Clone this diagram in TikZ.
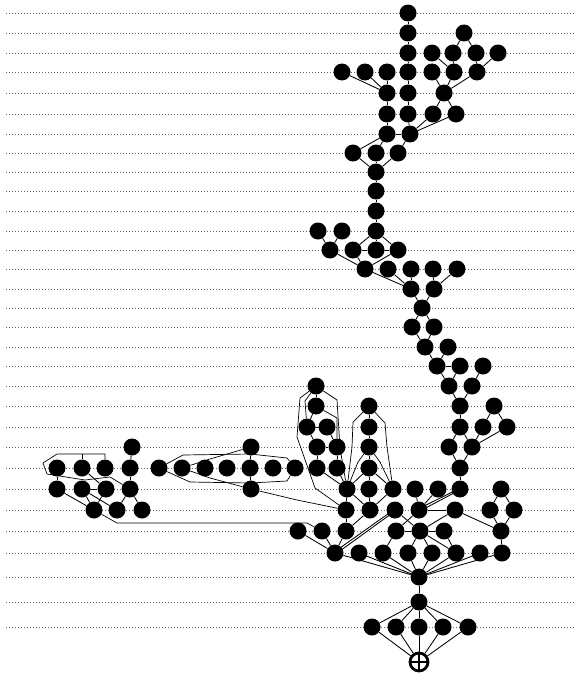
\documentclass[tikz,border=0pt]{standalone}
\begin{document}
\begin{tikzpicture}[x=1pt,y=-1pt,
  dot/.style={circle,fill=black,inner sep=0pt,minimum size=17pt},
  edge/.style={line width=0.85pt},
  hull/.style={line width=0.7pt},
  guide/.style={black!60,line width=0.6pt,dash pattern=on 1pt off 2pt}]
\useasboundingbox (0,0) rectangle (576,677);
% dotted level lines
\foreach \y in {13,33,53,72,93,114,134,153,172,191,211,231,250,269,289,308,327,347,366,386,406,427,447,468,489,510,531,553,577,602,627}
  \draw[guide] (6,\y) -- (576,\y);
% nodes
\foreach \r/\y/\xs in {
  0/13/{408},
  1/33/{408,464},
  2/53/{408,432,453,476,498},
  3/72/{342,365,387,408,432,454,477},
  4/93/{387,408,444},
  5/114/{387,408,433,456},
  6/134/{387,410},
  7/153/{353,376,398},
  8/172/{376},
  9/191/{376},
  10/211/{376},
  11/231/{318,342,376},
  12/250/{330,353,376,398},
  13/269/{365,388,411,433,457},
  14/289/{411,434},
  15/308/{422},
  16/327/{412,434},
  17/347/{425,448},
  18/366/{437,460,483},
  19/386/{316,449,472},
  20/406/{316,369,460,494},
  21/427/{307,327,369,460,483,507},
  22/447/{132,251,317,337,369,449,472},
  23/468/{57,82,105,130,159,182,205,227,250,273,295,317,337,369,460},
  24/489/{57,82,106,130,251,347,369,393,415,438,460,501},
  25/510/{94,117,142,346,370,395,419,455,490,514},
  26/531/{298,322,346,396,420,444,501},
  27/553/{335,359,383,408,432,456,480,502},
  28/577/{419},
  29/602/{419},
  30/627/{372,396,419,443,468}}
  \foreach \x in \xs \node[dot] (r\r-\x) at (\x,\y) {};
\node[circle,draw,fill=white,line width=2.8pt,inner sep=0pt,minimum size=18pt] (root) at (419,662) {};
\draw[line width=2.2pt] (root.north) -- (root.south) (root.west) -- (root.east);
% edges
\foreach \a/\b in {
  r0-408/r1-408, r1-408/r2-408, r2-408/r3-408, r3-408/r4-408, r4-408/r5-408, r5-408/r6-410,
  r1-464/r2-453, r1-464/r2-476,
  r2-432/r3-454, r2-453/r3-454, r2-476/r3-477, r2-498/r3-477,
  r3-342/r4-387, r3-365/r4-387, r3-387/r4-387,
  r3-432/r4-444, r3-454/r4-444, r3-477/r4-444,
  r4-387/r5-387, r5-387/r6-387,
  r4-444/r5-433, r4-444/r5-456,
  r5-433/r6-410, r5-456/r6-410,
  r6-387/r6-410,
  r6-387/r7-353, r6-387/r7-376, r6-410/r7-398,
  r7-353/r8-376, r7-376/r8-376, r7-398/r8-376,
  r8-376/r9-376, r9-376/r10-376, r10-376/r11-376,
  r11-318/r12-330, r11-342/r12-330,
  r11-376/r12-353, r11-376/r12-398, r11-376/r12-376,
  r12-353/r12-376, r12-376/r12-398,
  r12-330/r13-365, r12-353/r13-365, r12-398/r13-365,
  r13-365/r14-411, r13-388/r14-411, r13-411/r14-411, r13-433/r14-434, r13-457/r14-434,
  r14-411/r15-422, r14-434/r15-422,
  r15-422/r16-412, r15-422/r16-434,
  r16-412/r17-425, r16-434/r17-425,
  r17-425/r18-437, r17-448/r18-437,
  r18-437/r18-460,
  r18-437/r19-449, r18-460/r19-449, r18-483/r19-472,
  r19-449/r20-460, r19-472/r20-460,
  r20-460/r21-460,
  r20-494/r21-483, r20-494/r21-507,
  r21-460/r22-449, r21-460/r22-472, r21-483/r22-472, r21-507/r22-472,
  r22-449/r23-460, r22-472/r23-460,
  r23-460/r24-460,
  % cluster A
  r19-316/r20-316, r20-316/r21-307, r21-307/r21-327,
  r21-307/r22-317, r21-327/r22-337, r22-317/r22-337,
  r22-317/r23-317, r22-337/r23-337,
  r23-317/r24-347, r23-337/r24-347,
  % cluster B
  r20-369/r21-369, r21-369/r22-369, r22-369/r23-369, r23-369/r24-369,
  r23-369/r24-347, r23-369/r24-393,
  % left cluster
  r22-132/r23-130, r23-130/r24-130, r23-57/r24-57,
  r23-82/r24-106, r24-82/r24-106,
  r24-57/r25-94, r24-82/r25-94, r24-82/r25-117, r24-106/r25-94,
  r24-130/r25-117, r24-130/r25-142,
  % middle cluster
  r22-251/r23-250, r23-250/r24-251,
  % lower part
  r24-347/r25-346, r24-347/r25-370, r24-393/r25-370, r24-369/r25-370,
  r25-346/r26-346, r25-370/r26-346,
  r25-395/r26-420,
  r24-415/r25-419, r24-438/r25-419,
  r25-419/r25-455, r25-419/r26-396,
  r25-455/r26-420, r25-455/r26-501,
  r24-501/r25-490, r24-501/r25-514, r25-490/r26-501, r25-514/r26-501, r26-501/r27-502,
  r26-396/r26-420, r26-420/r26-444,
  r26-420/r27-408, r26-420/r27-432, r26-444/r27-456, r26-420/r27-456,
  r26-298/r27-335, r26-322/r27-335, r26-346/r27-335,
  r26-396/r27-383,
  r27-335/r28-419, r27-359/r28-419, r27-383/r28-419, r27-408/r28-419,
  r27-432/r28-419, r27-456/r28-419, r27-480/r28-419, r27-502/r28-419,
  r28-419/r29-419,
  r29-419/r30-372, r29-419/r30-396, r29-419/r30-419, r29-419/r30-443, r29-419/r30-468,
  r30-372/root, r30-396/root, r30-419/root, r30-443/root, r30-468/root}
  \draw[edge] (\a) -- (\b);
% doubled connectors
\draw[edge] ([xshift=1.5pt]r24-460.center) -- ([yshift=-1.5pt]r25-419.center);
\draw[edge] ([xshift=-1.5pt]r24-460.center) -- ([yshift=1.5pt]r25-419.center);
\draw[edge] ([xshift=1.5pt]r25-395.center) -- ([yshift=-1.5pt]r27-335.center);
\draw[edge] ([xshift=-1.5pt]r25-395.center) -- ([yshift=1.5pt]r27-335.center);
% group outlines and long connectors
\draw[hull] (r19-316) -- (300,398) -- (297,437) -- (315,488) -- (r25-346);
\draw[hull] (r19-316) -- (305,401) -- (r21-307);
\draw[hull] (r19-316) -- (337,400) -- (340,448) -- (r24-347);
\draw[hull] (r20-316) -- (337,418) -- (r22-337);
\draw[hull] (r20-369) -- (353,422) -- (352,447) -- (r24-347);
\draw[hull] (r20-369) -- (385,423) -- (387,447) -- (r24-393);
\draw[hull] (r22-369) -- (358,462) -- (r24-347);
\draw[hull] (r22-369) -- (380,462) -- (r24-393);
\draw[hull] (r23-82) -- (82,454);
\draw[hull] (r23-105) -- (105,454) -- (57,454) -- (43,463) -- (47,474) -- (85,480) -- (110,477) -- (r24-130);
\draw[hull] (r23-159) -- (183,455) -- (250,454) -- (287,458) -- (r23-295);
\draw[hull] (r23-159) -- (190,482) -- (250,483) -- (287,481) -- (r23-295);
\draw[hull] (r23-182) -- (210,459) -- (r22-251);
\draw[hull] (r23-182) -- (210,478) -- (r24-251);
\draw[hull] (r24-251) -- (297,500) -- (r25-346);
\draw[hull] (r25-94) -- (117,523) -- (307,523) -- (r26-322);
\end{tikzpicture}
\end{document}
